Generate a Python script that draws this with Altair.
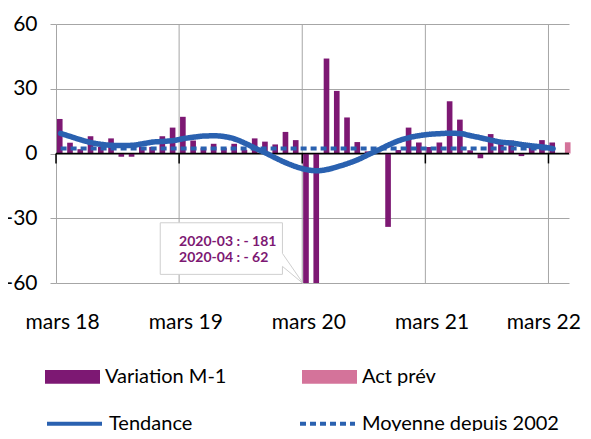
import altair as alt
import pandas as pd

# ---------------- data ----------------
x_labels = ["mars 18", "mars 19", "mars 20", "mars 21", "mars 22"]
x_label_pos = [0.6, 12.6, 24.6, 36.6, 47.5]   # month index where each label is centred
year_starts = [0, 12, 24, 36, 48]          # month index of each "mars" (mars 18 = 0)
y_ticks = [-60, -30, 0, 30, 60]

variation = [16, 5, 2, 8, 3, 7, -1.5, -1.5, 3, 3, 8, 12,
             17, 6, 2.5, 4.5, 2.5, 4.5, 1.7, 7, 5.5, 4.2, 10, 6.2,
             -181, -62, 44, 29, 16.7, 5.3, 1, 0.5, -34, 1.6, 12, 5.1,
             3, 5.1, 24.2, 15.7, 1.5, -2.2, 9, 5.2, 6, -1.2, 3, 6.2, 5.1]
act_prev = [5.2]
act_prev_month = [49]

tendance = [9.3, 7.8, 6.3, 5.0, 4.2, 3.8, 3.7, 3.8, 4.5, 5.3, 5.6, 6.0,
            6.9, 7.6, 8.1, 8.2, 7.8, 6.7, 4.7, 2.4, 0.2, -2.2, -4.4, -6.2,
            -7.5, -8.0, -7.4, -6.1, -4.6, -2.8, -0.5, 1.7, 4.0, 6.0, 7.4, 8.3,
            8.9, 9.2, 9.4, 9.2, 8.2, 7.2, 6.1, 5.2, 4.8, 4.1, 3.5, 3.0, 2.2]
moyenne = 2.3

callout_lines = ["2020-03 : - 181", "2020-04 : - 62"]

# ---------------- style ----------------
PURPLE = "#7D1873"
PINK = "#D4739A"
BLUE = "#2A61B0"
GRID = "#A6A6A6"
FONT = "Lato"
FS = 21
LFS = 20

n = len(variation)
X_DOMAIN = [0, 50]
Y_DOMAIN = [-60, 60]

bars = pd.DataFrame({
    "serie": ["Variation M-1"] * n + ["Act prév"] * len(act_prev),
    "m": list(range(n)) + act_prev_month,
    "v": variation + act_prev,
})
bars["x0"] = bars["m"] + bars["serie"].map({"Variation M-1": 0.09, "Act prév": 0.6})
bars["x1"] = bars["x0"] + 0.55

lines = pd.DataFrame({
    "serie": ["Tendance"] * n + ["Moyenne depuis 2002"] * n,
    "x": [i + 0.45 for i in range(n)] * 2,
    "v": tendance + [moyenne] * n,
})

xs = alt.Scale(domain=X_DOMAIN, nice=False, zero=False)
ys = alt.Scale(domain=Y_DOMAIN, nice=False)

label_expr = "[" + ",".join("'%s'" % s for s in x_labels) + "][round(datum.value / 12)]"

# vertical gridlines
vgrid = alt.Chart(pd.DataFrame({"m": year_starts[1:]})).mark_rule(
    color=GRID, strokeWidth=1).encode(
    x=alt.X("m:Q", scale=xs),
    y=alt.Y(datum=Y_DOMAIN[0], scale=ys),
    y2=alt.Y2(datum=Y_DOMAIN[1]),
)

bar_layer = alt.Chart(bars).transform_calculate(
    vc="max(datum.v, -60)"
).mark_rect().encode(
    x=alt.X("x0:Q", scale=xs,
            axis=alt.Axis(values=x_label_pos, labelExpr=label_expr,
                          grid=False, ticks=False, domain=False, title=None,
                          labelFont=FONT, labelFontSize=FS, labelColor="black",
                          labelPadding=28, labelFlush=False, labelOverlap=False)),
    x2="x1:Q",
    y=alt.Y("vc:Q", scale=ys,
            axis=alt.Axis(values=y_ticks, grid=True, gridColor=GRID, domainColor=GRID,
                          tickColor=GRID, tickSize=6, title=None, labelFont=FONT,
                          labelExpr="'' + datum.value",
                          labelFontSize=FS, labelColor="black", labelPadding=13,
                          labelFlush=False)),
    y2=alt.Y2(datum=0),
    color=alt.Color("serie:N",
                    scale=alt.Scale(domain=["Variation M-1", "Act prév"], range=[PURPLE, PINK]),
                    legend=alt.Legend(orient="none", legendX=-11, legendY=325, direction="horizontal",
                                      columns=2, title=None, padding=0,
                                      symbolType="M-1,-0.25H1V0.25H-1Z", symbolSize=3025,
                                      symbolStrokeWidth=0, symbolOpacity=1,
                                      labelFont=FONT, labelFontSize=LFS, labelColor="black",
                                      labelOffset=5, columnPadding=75, labelLimit=300)),
)

zero_line = alt.Chart(pd.DataFrame({"a": [X_DOMAIN[0]], "b": [X_DOMAIN[1]]})).mark_rule(
    color="black", strokeWidth=1.5).encode(
    x=alt.X("a:Q", scale=xs), x2="b:Q", y=alt.Y(datum=0, scale=ys))

ticks = alt.Chart(pd.DataFrame({"m": year_starts})).mark_rule(
    color="black", strokeWidth=1.5).encode(
    x=alt.X("m:Q", scale=xs), y=alt.Y(datum=0, scale=ys), y2=alt.Y2(datum=-4.6))

dash_scale = alt.Scale(domain=["Tendance", "Moyenne depuis 2002"], range=[[1, 0], [6, 4]])
dash_legend = alt.Legend(orient="none", legendX=-11, legendY=370, direction="horizontal",
                         columns=2, title=None, padding=0, symbolType="stroke",
                         symbolSize=3025, symbolStrokeColor=BLUE, symbolStrokeWidth=4,
                         labelFont=FONT, labelFontSize=LFS, labelColor="black",
                         labelOffset=5, columnPadding=99, labelLimit=300)

moy_layer = alt.Chart(lines).transform_filter(
    alt.datum.serie == "Moyenne depuis 2002").mark_line(
    color=BLUE, strokeWidth=4, strokeCap="butt").encode(
    x=alt.X("x:Q", scale=xs), y=alt.Y("v:Q", scale=ys),
    strokeDash=alt.StrokeDash("serie:N", scale=dash_scale, legend=dash_legend))

tend_layer = alt.Chart(lines).transform_filter(
    alt.datum.serie == "Tendance").mark_line(
    color=BLUE, strokeWidth=5.5, strokeCap="round", interpolate="monotone").encode(
    x=alt.X("x:Q", scale=xs), y=alt.Y("v:Q", scale=ys),
    strokeDash=alt.StrokeDash("serie:N", scale=dash_scale, legend=dash_legend))

# callout box (data units)
bx0, bx1, by0, by1 = 10.16, 22.07, -32.1, -56.0
box_fill = alt.Chart(pd.DataFrame({"a": [bx0], "b": [bx1], "c": [by0], "d": [by1]})).mark_rect(
    color="white").encode(x=alt.X("a:Q", scale=xs), x2="b:Q", y=alt.Y("c:Q", scale=ys), y2="d:Q")
outline = pd.DataFrame({
    "o": list(range(8)),
    "x": [bx0, bx1, bx1, 24.1, bx1, bx1, bx0, bx0],
    "y": [by0, by0, -46.3, -60.3, -52.3, by1, by1, by0],
})
box_line = alt.Chart(outline).mark_line(color="#CFCFCF", strokeWidth=1).encode(
    x=alt.X("x:Q", scale=xs), y=alt.Y("y:Q", scale=ys), order="o:Q")
callout_text = alt.Chart(pd.DataFrame({"t": callout_lines, "x": [12.0, 12.0], "y": [-40.8, -48.6]})).mark_text(
    align="left", baseline="middle", font=FONT, fontSize=14, fontWeight="bold", color=PURPLE).encode(
    x=alt.X("x:Q", scale=xs), y=alt.Y("y:Q", scale=ys), text="t:N")

chart = alt.layer(
    vgrid, bar_layer, zero_line, ticks, moy_layer, tend_layer, box_fill, box_line, callout_text
).properties(
    width=513, height=259,
    autosize=alt.AutoSizeParams(type="none"),
    padding={"left": 48, "top": 16, "right": 14, "bottom": 148},
    background="white",
).configure_view(stroke=None)

chart.save("out.html", embed_options={"renderer": "svg", "actions": False})
